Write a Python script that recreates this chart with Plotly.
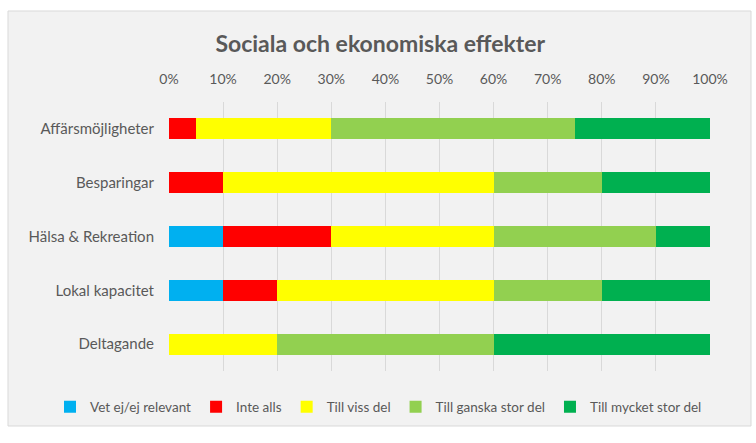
import plotly.graph_objects as go

categories = ["Affärsmöjligheter", "Besparingar", "Hälsa & Rekreation", "Lokal kapacitet", "Deltagande"]
series_names = ["Vet ej/ej relevant", "Inte alls", "Till viss del", "Till ganska stor del", "Till mycket stor del"]
vet_ej = [0.00, 0.00, 0.10, 0.10, 0.00]
inte_alls = [0.05, 0.10, 0.20, 0.10, 0.00]
viss_del = [0.25, 0.50, 0.30, 0.40, 0.20]
ganska_stor = [0.45, 0.20, 0.30, 0.20, 0.40]
mycket_stor = [0.25, 0.20, 0.10, 0.20, 0.40]
colors = ["#00B0F0", "#FF0000", "#FFFF00", "#92D050", "#00B050"]

font_family = "Lato, 'Open Sans', sans-serif"
fig = go.Figure()
for name, vals, col in zip(series_names, [vet_ej, inte_alls, viss_del, ganska_stor, mycket_stor], colors):
    fig.add_trace(go.Bar(y=categories, x=vals, name=name, orientation="h",
                         marker=dict(color=col, line=dict(width=0))))

L, R, T, B = 169, 46, 102, 72
PW, PH = 756 - L - R, 443 - T - B

fig.update_layout(
    template="none",
    width=756, height=443,
    barmode="stack", bargap=0.61,
    paper_bgcolor="white", plot_bgcolor="#F2F2F2",
    margin=dict(l=L, r=R, t=T, b=B),
    font=dict(family=font_family, color="#595959", size=13),
    title=dict(text="<b>Sociala och ekonomiska effekter</b>", x=0.503, xanchor="center",
               xref="container", y=1 - 44/443, yanchor="middle",
               font=dict(family=font_family, size=23, color="#595959")),
    xaxis=dict(side="top", range=[0, 1], dtick=0.1, tickformat=".0%", showgrid=True,
               gridcolor="#D9D9D9", gridwidth=1, zeroline=False, showline=False,
               ticks="", ticklabelstandoff=14, tickfont=dict(size=14, color="#595959"),
               automargin=False),
    yaxis=dict(autorange="reversed", showgrid=False, ticks="", ticklabelstandoff=14,
               tickfont=dict(size=15, color="#595959"), showline=False, automargin=False),
    legend=dict(orientation="h", xref="paper", yref="paper",
                x=(50 - L) / PW, xanchor="left", y=-(407 - (T + PH)) / PH, yanchor="middle",
                font=dict(size=13.5, color="#595959"), bgcolor="rgba(0,0,0,0)",
                itemwidth=30, traceorder="normal"),
    shapes=[dict(type="rect", xref="paper", yref="paper", layer="below",
                 x0=(8 - L) / PW, x1=(751 - L) / PW, y0=-(426 - (T + PH)) / PH, y1=(T + PH - 11) / PH,
                 fillcolor="#F2F2F2", line=dict(color="#D9D9D9", width=1))],
)

fig.write_html("out.html", config={"displayModeBar": False},
               post_script="document.body.style.margin='0';")
